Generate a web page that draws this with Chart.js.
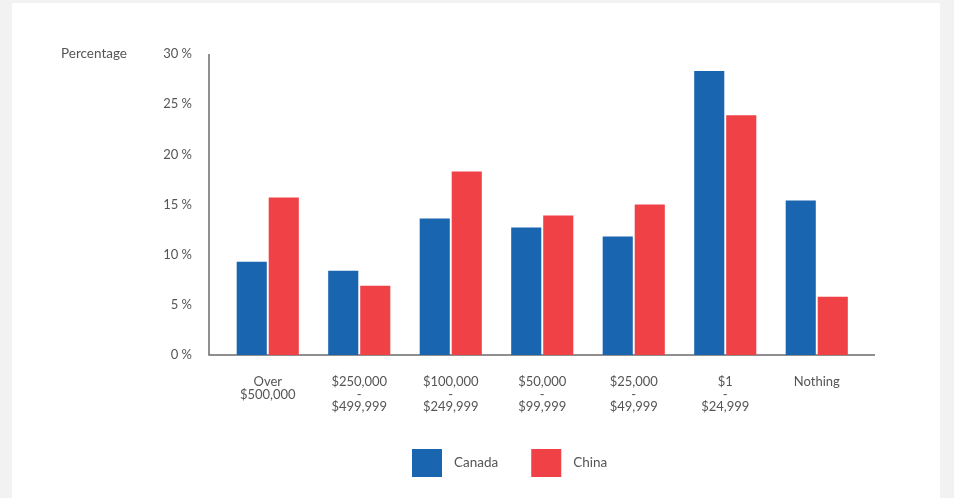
<!DOCTYPE html>
<html>
<head>
<meta charset="utf-8">
<script src="https://cdn.jsdelivr.net/npm/chart.js@4"></script>
<style>
  html, body { margin: 0; padding: 0; background: #f2f2f2; }
  #panel { position: absolute; left: 12px; top: 3px; width: 928px; height: 495px; background: #ffffff; }
  #wrap { position: absolute; left: 0; top: 0; width: 954px; height: 498px; }
</style>
</head>
<body>
<div id="panel"></div>
<div id="wrap"><canvas id="chart" width="954" height="498"></canvas></div>
<script>
const categories = [
  ["Over", "$500,000"],
  ["$250,000", "-", "$499,999"],
  ["$100,000", "-", "$249,999"],
  ["$50,000", "-", "$99,999"],
  ["$25,000", "-", "$49,999"],
  ["$1", "-", "$24,999"],
  ["Nothing"]
];
const canada = [9.3, 8.4, 13.6, 12.7, 11.8, 28.3, 15.4];
const china = [15.7, 6.9, 18.3, 13.9, 15.0, 23.9, 5.8];
const yTicks = [0, 5, 10, 15, 20, 25, 30];

const textColor = "#555555";
const fontFamily = "Lato, 'Open Sans', sans-serif";

// axis lines, the "Percentage" caption and the legend
const axisPlugin = {
  id: "axisLines",
  beforeDatasetsDraw(chart) {
    const ctx = chart.ctx;
    const y = chart.scales.y;
    const top = y.getPixelForValue(30);
    const bottom = y.getPixelForValue(0);
    ctx.save();
    ctx.strokeStyle = "#6b6b6b";
    ctx.lineWidth = 1.5;
    ctx.beginPath();
    ctx.moveTo(209, top);
    ctx.lineTo(209, bottom);
    ctx.lineTo(875, bottom);
    ctx.stroke();
    ctx.fillStyle = textColor;
    ctx.font = "13.5px " + fontFamily;
    ctx.textAlign = "left";
    ctx.textBaseline = "middle";
    ctx.fillText("Percentage", 61, top);
    ctx.restore();
  },
  afterDraw(chart) {
    const ctx = chart.ctx;
    ctx.save();
    ctx.font = "13.5px " + fontFamily;
    ctx.textBaseline = "middle";
    ctx.textAlign = "left";
    let x = 412;
    const yTop = 449;
    chart.data.datasets.forEach(function (ds) {
      ctx.fillStyle = ds.backgroundColor;
      ctx.fillRect(x, yTop, 30, 28);
      ctx.fillStyle = textColor;
      ctx.fillText(ds.label, x + 42, yTop + 14);
      x += 42 + ctx.measureText(ds.label).width + 33;
    });
    ctx.restore();
  }
};

new Chart(document.getElementById("chart"), {
  type: "bar",
  data: {
    labels: categories,
    datasets: [
      {
        label: "Canada",
        data: canada,
        backgroundColor: "#1A65B0",
        categoryPercentage: 0.70,
        barPercentage: 0.94
      },
      {
        label: "China",
        data: china,
        backgroundColor: "#EF4146",
        categoryPercentage: 0.70,
        barPercentage: 0.94
      }
    ]
  },
  options: {
    responsive: false,
    animation: false,
    layout: { padding: { top: 54, right: 91.5, left: 0, bottom: 63 } },
    plugins: {
      legend: { display: false },
      tooltip: { enabled: false }
    },
    scales: {
      x: {
        grid: { display: false },
        border: { display: false },
        ticks: {
          color: textColor,
          padding: 13,
          maxRotation: 0,
          autoSkip: false,
          font: { family: fontFamily, size: 13, lineHeight: 0.95 }
        },
        afterFit: function (scale) { scale.height = 80; }
      },
      y: {
        min: 0,
        max: 30,
        grid: { display: false, drawTicks: false },
        border: { display: false },
        afterBuildTicks: function (scale) {
          scale.ticks = yTicks.map(function (v) { return { value: v }; });
        },
        ticks: {
          color: textColor,
          padding: 30,
          font: { family: fontFamily, size: 13 },
          callback: function (value) { return value + " %"; }
        },
        afterFit: function (scale) { scale.width = 222; }
      }
    }
  },
  plugins: [axisPlugin]
});
</script>
</body>
</html>
